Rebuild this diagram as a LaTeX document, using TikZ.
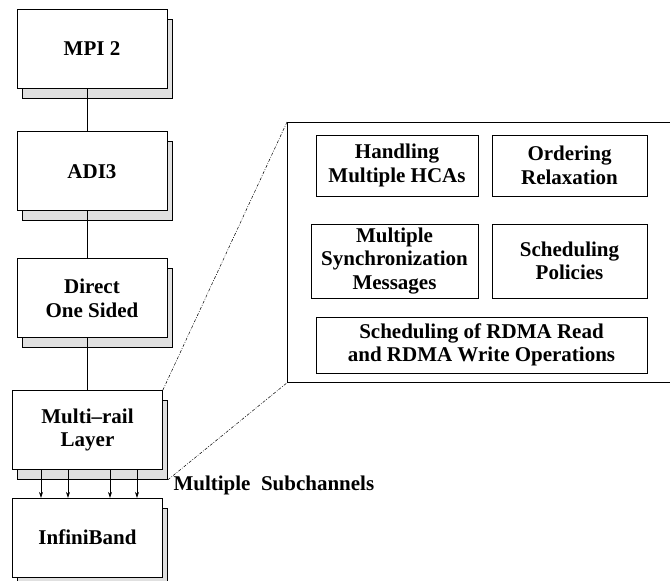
\documentclass[tikz,border=0pt]{standalone}
\usepackage{fontspec}
\setmainfont{Liberation Serif}
\usetikzlibrary{positioning,shadows,arrows.meta}
\begin{document}
\begin{tikzpicture}[x=1pt, y=-1pt, node distance=40pt,
  font=\fontsize{21}{23.5}\selectfont\bfseries,
  layer node/.style={rectangle, draw, fill=white, line width=0.8pt, inner sep=0pt,
    minimum width=150pt, minimum height=79pt, align=center,
    general shadow={fill=black!12, draw=black, line width=0.8pt,
      shadow xshift=5pt, shadow yshift=-10pt}},
  part node/.style={rectangle, draw, line width=0.8pt, inner sep=0pt, align=center},
  zoom line/.style={line width=0.5pt, dash pattern=on 3pt off 1.5pt on 0.8pt off 1.5pt}]%
  \useasboundingbox (0,0) rectangle (670,581);

  \node[layer node] (mpi) at (92,48.5) {MPI 2};
  \node[layer node] (adi) [below=43pt of mpi] {ADI3};
  \node[layer node] (direct) [below=47pt of adi] {Direct\\One Sided};
  \node[layer node] (multi) [below=52pt of direct, xshift=-4.5pt] {Multi--rail\\Layer};
  \node[layer node] (infini) [below=28pt of multi] {InfiniBand};

  \draw[line width=0.6pt] ([xshift=-5pt]mpi.south) -- ([xshift=-5pt]adi.north);
  \draw[line width=1pt] ([xshift=-5pt]adi.south) -- ([xshift=-5pt]direct.north);
  \draw[line width=0.6pt] (multi.north |- direct.south) -- (multi.north);
  \foreach \dx in {-46.5,-19.5,22.5,49.5}
    \draw[line width=0.6pt, -{Stealth[length=6pt,width=4pt]}] ([xshift=\dx pt]multi.south) -- ([xshift=\dx pt]infini.north);
  \node[anchor=base west] (subch) at (170,490) {Multiple~~Subchannels};

  % zoomed view of the multi-rail layer
  \node[rectangle, draw, line width=0.8pt, minimum width=392pt, minimum height=260pt,
    anchor=north west] (zoom) at (287,122) {};
  \coordinate (multishadow) at ([shift={(5pt,-10pt)}]multi.south east);
  \draw[zoom line] (multi.north east) -- (zoom.north west);
  \draw[zoom line] (multishadow) -- (zoom.south west);

  \node[part node, minimum width=162pt, minimum height=61pt] (hcas) at (397,165.5) {Handling\\Multiple HCAs};
  \node[part node, minimum width=155pt, minimum height=61pt] (order) at (569.5,165.5) {Ordering\\Relaxation};
  \node[part node, minimum width=167pt, minimum height=74pt] (sync) at (394.5,261) {Multiple\\Synchronization\\Messages};
  \node[part node, minimum width=155pt, minimum height=74pt] (policy) at (569.5,261) {Scheduling\\Policies};
  \node[part node, minimum width=331pt, minimum height=56pt] (rdma) at (481.5,345) {Scheduling of RDMA Read\\and RDMA Write Operations};
\end{tikzpicture}
\end{document}
